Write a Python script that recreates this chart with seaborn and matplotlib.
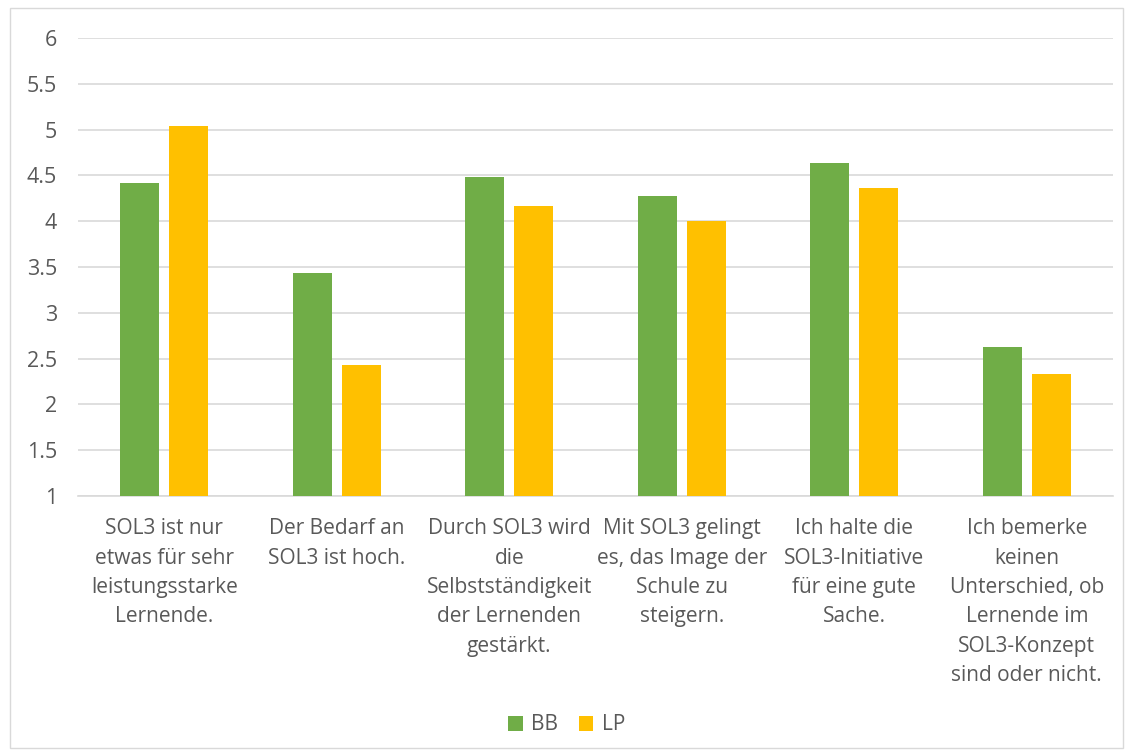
import pandas as pd
import matplotlib.pyplot as plt
import seaborn as sns
from matplotlib.patches import Rectangle

categories = [
    "SOL3 ist nur\netwas für sehr\nleistungsstarke\nLernende.",
    "Der Bedarf an\nSOL3 ist hoch.",
    "Durch SOL3 wird\ndie\nSelbstständigkeit\nder Lernenden\ngestärkt.",
    "Mit SOL3 gelingt\nes, das Image der\nSchule zu\nsteigern.",
    "Ich halte die\nSOL3-Initiative\nfür eine gute\nSache.",
    "Ich bemerke\nkeinen\nUnterschied, ob\nLernende im\nSOL3-Konzept\nsind oder nicht.",
]
bb = [4.42, 3.43, 4.48, 4.28, 4.64, 2.63]
lp = [5.04, 2.43, 4.17, 4.00, 4.36, 2.33]
yticks = [1, 1.5, 2, 2.5, 3, 3.5, 4, 4.5, 5, 5.5, 6]
ytick_labels = ["1", "1.5", "2", "2.5", "3", "3.5", "4", "4.5", "5", "5.5", "6"]

df = pd.DataFrame({
    "Aussage": categories * 2,
    "Wert": bb + lp,
    "Gruppe": ["BB"] * len(bb) + ["LP"] * len(lp),
})

sns.set_style("white")
plt.rcParams['font.family'] = ['Open Sans', 'DejaVu Sans']
text_col = '#595959'
fs = 15

fig = plt.figure(figsize=(11.33, 7.56), dpi=100)
ax = fig.add_axes([78 / 1133, 1 - 496 / 756, (1113 - 78) / 1133, (496 - 38) / 756])

sns.barplot(data=df, x="Aussage", y="Wert", hue="Gruppe",
            palette={"BB": "#70ad47", "LP": "#ffc000"}, saturation=1,
            width=0.57, gap=0.2, linewidth=0, ax=ax, legend=True, zorder=3)

ax.set_ylim(1, 6)
ax.set_yticks(yticks)
ax.set_yticklabels(ytick_labels, fontsize=15.5, color=text_col)
ax.grid(axis='y', color='#d9d9d9', linewidth=1.2, zorder=0)
ax.set_xlim(-0.5, len(categories) - 0.5)
for s in ['top', 'right', 'left']:
    ax.spines[s].set_visible(False)
ax.spines['bottom'].set_color('#d9d9d9')
ax.spines['bottom'].set_linewidth(1.2)
ax.tick_params(axis='x', length=0, pad=16)
ax.tick_params(axis='y', length=0, pad=15)
for lbl in ax.get_xticklabels():
    lbl.set_fontsize(fs)
    lbl.set_color(text_col)
    lbl.set_linespacing(1.52)
ax.set_xlabel('')
ax.set_ylabel('')

ax.legend(loc='center', bbox_to_anchor=(0.5, (756 - 725) / 756), bbox_transform=fig.transFigure,
          ncol=2, frameon=False, fontsize=fs, handlelength=0.7, handleheight=0.7,
          handletextpad=0.4, columnspacing=1.0, labelcolor=text_col)

fig.patches.append(Rectangle((10 / 1133, 8 / 756), 1113 / 1133, 740 / 756,
                             transform=fig.transFigure, fill=False,
                             edgecolor='#d9d9d9', linewidth=1))

fig.savefig("out.png", dpi=100)
